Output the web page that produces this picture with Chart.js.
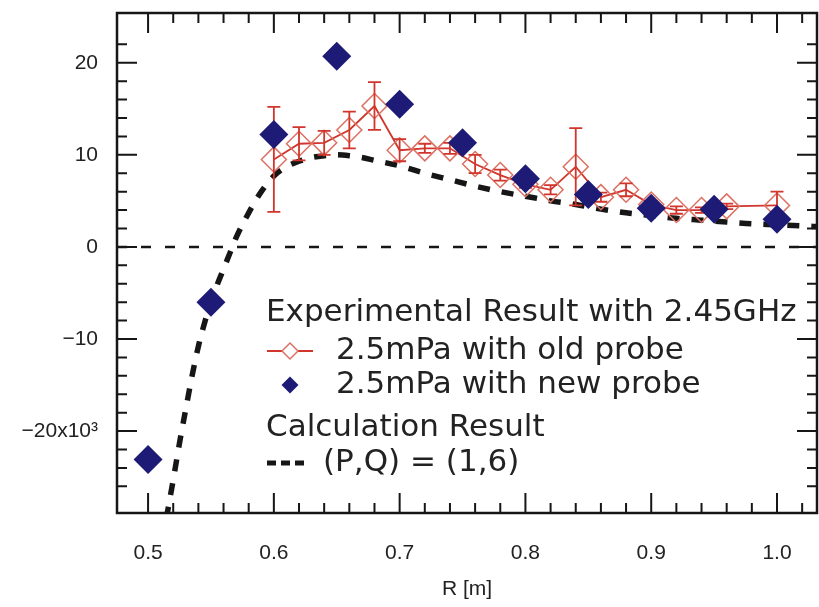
<!DOCTYPE html>
<html>
<head>
<meta charset="utf-8">
<script src="https://cdn.jsdelivr.net/npm/chart.js@4.4.0/dist/chart.umd.min.js"></script>
<style>
  html, body { margin: 0; padding: 0; background: #fff; overflow: hidden; }
  canvas { display: block; }
</style>
</head>
<body>
<canvas id="chart" width="819" height="607"></canvas>
<script>
// DATA
const xTicks = [0.5, 0.6, 0.7, 0.8, 0.9, 1.0];
const yTicks = [-20, -10, 0, 10, 20];

// new probe (filled navy diamonds)
const newR = [0.50, 0.55, 0.60, 0.65, 0.70, 0.75, 0.80, 0.85, 0.90, 0.95, 1.00];
const newVal = [-23.1, -6.0, 12.2, 20.7, 15.5, 11.3, 7.4, 5.7, 4.2, 4.1, 3.0];

// old probe (open red diamonds with error bars)
const oldR = [0.60, 0.62, 0.64, 0.66, 0.68, 0.70, 0.72, 0.74, 0.76, 0.78,
  0.80, 0.82, 0.84, 0.86, 0.88, 0.90, 0.92, 0.94, 0.96, 1.00];
const oldVal = [9.5, 11.2, 11.3, 12.7, 15.3, 10.5, 10.7, 10.7, 9.0, 7.8,
  6.8, 6.2, 8.7, 5.4, 6.2, 4.6, 4.0, 4.0, 4.4, 4.5];
const oldErr = [5.7, 1.8, 1.3, 2.0, 2.6, 1.2, 0.5, 0.6, 1.0, 0.6,
  0.4, 0.5, 4.2, 0.5, 0.7, 0.4, 0.4, 0.3, 0.3, 1.5];

// calculation result (P,Q) = (1,6)
const calcR = [0.5145, 0.520, 0.525, 0.530, 0.535, 0.540, 0.545, 0.550, 0.555, 0.560,
  0.565, 0.570, 0.580, 0.590, 0.600, 0.610, 0.620, 0.630, 0.640, 0.650,
  0.660, 0.670, 0.680, 0.700, 0.720, 0.740, 0.760, 0.780, 0.800, 0.820,
  0.840, 0.860, 0.880, 0.900, 0.920, 0.940, 0.960, 0.980, 1.000, 1.032];
const calcVal = [-29.5, -25.3, -21.3, -17.6, -14.0, -10.8, -8.2, -6.0, -4.1, -2.4,
  -0.7, 1.0, 3.7, 6.0, 7.7, 8.7, 9.3, 9.7, 9.9, 10.0,
  9.9, 9.7, 9.4, 8.8, 8.0, 7.3, 6.6, 6.0, 5.5, 5.0,
  4.6, 4.1, 3.7, 3.4, 3.1, 2.9, 2.7, 2.5, 2.4, 2.2];

const legendHeads = ["Experimental Result with 2.45GHz", "Calculation Result"];

const navy = "#1e1b76";
const red = "#d1352b";
const redPt = "#dc7062";
const ink = "#161616";

function pts(xs, ys) {
  return xs.map((x, i) => ({ x: x, y: ys[i] }));
}

function minus(v) {
  return v < 0 ? "\u2212" + Math.abs(v) : String(v);
}

function noPad(s) {
  s.paddingTop = 0;
  s.paddingBottom = 0;
  s.paddingLeft = 0;
  s.paddingRight = 0;
}

// frame + inward ticks on all four sides, zero line
const frame = {
  id: "frame",
  beforeDatasetsDraw(chart) {
    const { ctx, chartArea: a, scales: { y } } = chart;
    const y0 = y.getPixelForValue(0);
    ctx.save();
    ctx.strokeStyle = ink;
    ctx.lineWidth = 2.5;
    ctx.setLineDash([10, 14]);
    ctx.beginPath();
    ctx.moveTo(a.left, y0);
    ctx.lineTo(a.right, y0);
    ctx.stroke();
    ctx.restore();
  },
  afterDraw(chart) {
    const { ctx, chartArea: a, scales: { x, y } } = chart;
    ctx.save();
    ctx.strokeStyle = ink;
    ctx.lineWidth = 2;
    ctx.beginPath();
    for (let i = 0; i <= 26; i++) {
      const v = +(0.5 + i * 0.02).toFixed(2);
      const px = x.getPixelForValue(v);
      const len = i % 5 === 0 ? 20 : 10;
      ctx.moveTo(px, a.bottom);
      ctx.lineTo(px, a.bottom - len);
      ctx.moveTo(px, a.top);
      ctx.lineTo(px, a.top + len);
    }
    for (let v = -26; v <= 22; v += 2) {
      const py = y.getPixelForValue(v);
      const len = v % 10 === 0 ? 20 : 10;
      ctx.moveTo(a.left, py);
      ctx.lineTo(a.left + len, py);
      ctx.moveTo(a.right, py);
      ctx.lineTo(a.right - len, py);
    }
    ctx.stroke();
    ctx.lineWidth = 2.5;
    ctx.strokeRect(a.left, a.top, a.right - a.left, a.bottom - a.top);
    ctx.restore();
  }
};

// error bars of the old probe
const errorBars = {
  id: "errorBars",
  afterDatasetDraw(chart, args) {
    if (args.index !== 1) return;
    const { ctx, scales: { x, y } } = chart;
    ctx.save();
    ctx.strokeStyle = red;
    ctx.lineWidth = 1.8;
    ctx.beginPath();
    oldR.forEach((r, i) => {
      const px = x.getPixelForValue(r);
      const hi = y.getPixelForValue(oldVal[i] + oldErr[i]);
      const lo = y.getPixelForValue(oldVal[i] - oldErr[i]);
      ctx.moveTo(px, hi);
      ctx.lineTo(px, lo);
      ctx.moveTo(px - 6.5, hi);
      ctx.lineTo(px + 6.5, hi);
      ctx.moveTo(px - 6.5, lo);
      ctx.lineTo(px + 6.5, lo);
    });
    ctx.stroke();
    ctx.restore();
  }
};

function diamond(ctx, cx, cy, r) {
  ctx.beginPath();
  ctx.moveTo(cx - r, cy);
  ctx.lineTo(cx, cy - r);
  ctx.lineTo(cx + r, cy);
  ctx.lineTo(cx, cy + r);
  ctx.closePath();
}

// legend drawn inside the plot
const legendBox = {
  id: "legendBox",
  afterDraw(chart) {
    const { ctx, chartArea: a } = chart;
    const ds = chart.data.datasets;
    const x0 = a.left + 149;
    const t = a.top;
    ctx.save();
    ctx.font = '31px "DejaVu Sans"';
    ctx.fillStyle = "#222";
    ctx.textBaseline = "middle";
    ctx.fillText(legendHeads[0], x0, t + 300);

    // old probe
    ctx.strokeStyle = red;
    ctx.lineWidth = 2;
    ctx.beginPath();
    ctx.moveTo(x0 + 1, t + 338);
    ctx.lineTo(x0 + 47, t + 338);
    ctx.stroke();
    ctx.fillStyle = "#fff";
    diamond(ctx, x0 + 24, t + 338, 8);
    ctx.fill();
    ctx.strokeStyle = redPt;
    ctx.lineWidth = 1.5;
    ctx.stroke();
    ctx.fillStyle = "#222";
    ctx.fillText(ds[1].label, x0 + 70, t + 338);

    // new probe
    ctx.fillStyle = navy;
    diamond(ctx, x0 + 24, t + 372, 8.5);
    ctx.fill();
    ctx.fillStyle = "#222";
    ctx.fillText(ds[0].label, x0 + 70, t + 372);

    ctx.fillText(legendHeads[1], x0, t + 415);

    // calculation
    ctx.strokeStyle = ink;
    ctx.lineWidth = 5;
    ctx.setLineDash([9, 5]);
    ctx.beginPath();
    ctx.moveTo(x0 + 1, t + 450);
    ctx.lineTo(x0 + 40, t + 450);
    ctx.stroke();
    ctx.fillText(ds[2].label, x0 + 57, t + 450);
    ctx.restore();
  }
};

const ctx = document.getElementById("chart").getContext("2d");
new Chart(ctx, {
  type: "line",
  data: {
    datasets: [
      {
        label: "2.5mPa with new probe",
        data: pts(newR, newVal),
        showLine: false,
        pointStyle: "rectRot",
        pointRadius: 14.5,
        pointBackgroundColor: navy,
        pointBorderColor: navy,
        pointBorderWidth: 0,
        order: 0
      },
      {
        label: "2.5mPa with old probe",
        data: pts(oldR, oldVal),
        borderColor: red,
        borderWidth: 1.8,
        pointStyle: "rectRot",
        pointRadius: 12.5,
        pointBackgroundColor: "rgba(0,0,0,0)",
        pointBorderColor: redPt,
        pointBorderWidth: 1.5,
        order: 1
      },
      {
        label: "(P,Q) = (1,6)",
        data: pts(calcR, calcVal),
        borderColor: ink,
        borderWidth: 5.5,
        borderDash: [12, 12],
        pointRadius: 0,
        cubicInterpolationMode: "monotone",
        order: 2
      }
    ]
  },
  options: {
    responsive: false,
    animation: false,
    layout: { autoPadding: false, padding: { top: 13, right: 2, left: 0, bottom: 0 } },
    plugins: {
      legend: { display: false },
      tooltip: { enabled: false }
    },
    scales: {
      x: {
        type: "linear",
        min: 0.4753,
        max: 1.0318,
        grid: { display: false },
        border: { display: false },
        afterBuildTicks: s => { s.ticks = xTicks.map(v => ({ value: v })); },
        afterFit: s => { s.height = 94; noPad(s); },
        ticks: {
          padding: 20,
          color: "#222",
          font: { family: "'Liberation Sans', sans-serif", size: 21 },
          callback: v => v.toFixed(1)
        },
        title: {
          display: true,
          text: "R [m]",
          color: "#222",
          font: { family: "'Liberation Sans', sans-serif", size: 21 },
          padding: { top: 0, bottom: 5 }
        }
      },
      y: {
        min: -28.9,
        max: 25.4,
        grid: { display: false },
        border: { display: false },
        afterBuildTicks: s => { s.ticks = yTicks.map(v => ({ value: v })); },
        afterFit: s => { s.width = 117; noPad(s); },
        ticks: {
          padding: 11,
          color: "#222",
          font: { family: "'Liberation Sans', sans-serif", size: 21 },
          callback: v => (v === -20 ? "\u221220x10\u00b3" : minus(v))
        }
      }
    }
  },
  plugins: [frame, errorBars, legendBox]
});
</script>
</body>
</html>
